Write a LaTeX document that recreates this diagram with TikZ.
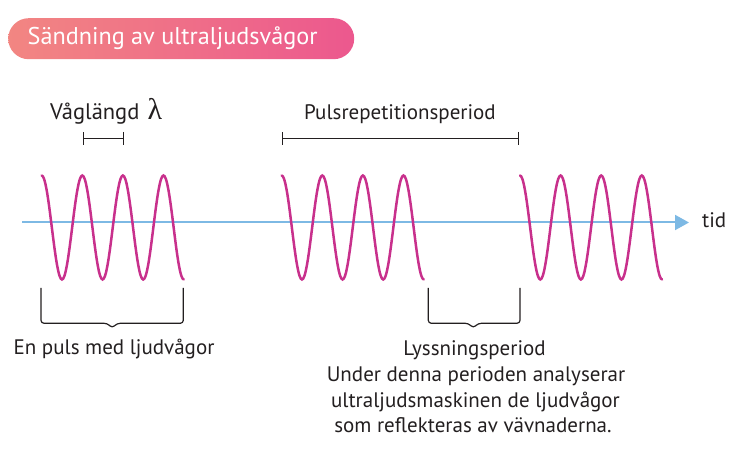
\documentclass[tikz,border=0pt]{standalone}
\usepackage{fontspec}
\setmainfont{PT Sans}
\newfontfamily\lamfont{Liberation Serif}
\usetikzlibrary{arrows.meta}
\definecolor{wavec}{RGB}{200,48,140}
\definecolor{axisc}{RGB}{125,185,228}
\definecolor{txt}{RGB}{35,31,32}
\definecolor{titleL}{RGB}{242,134,130}
\definecolor{titleR}{RGB}{236,88,142}
\tikzset{
  wave/.style={draw=wavec, line width=2.5pt, line cap=round},
  axisline/.style={draw=axisc, line width=2pt, -{Triangle[length=14pt,width=15pt]}},
  dimbar/.style={draw=txt, line width=1.2pt, {Bar[width=13pt]}-{Bar[width=13pt]}},
  bracketline/.style={draw=txt, line width=1.2pt, rounded corners=3pt},
  lbl/.style={text=txt, font=\fontsize{21}{24}\selectfont, inner sep=0pt, anchor=base},
}
\begin{document}
\begin{tikzpicture}[x=1pt,y=-1pt]
\useasboundingbox (0,0) rectangle (750,465);
% title
\node[rounded corners=20.5pt, left color=titleL, right color=titleR, minimum width=346pt, minimum height=41pt, inner sep=0pt, anchor=north west] (title) at (8,18) {};
\node[text=white, font=\fontsize{24.2}{28}\selectfont, inner sep=0pt, anchor=west] (titletext) at (27.5,38.5) {Sändning av ultraljudsvågor};
% axis
\coordinate (axstart) at (22,222.5);
\coordinate (axend) at (689,222.5);
\draw[axisline] (axstart) -- (axend);
\node[lbl, anchor=base west] (tid) at (702,228) {tid};
% waves
\foreach \s in {41.7,281.7,520}{
  \draw[wave] plot[domain=0:3.5, samples=120, smooth] ({\s+\x*40.6},{227.5-52*cos(360*\x)});
}
% wavelength
\node[lbl, anchor=base west, font=\fontsize{22.5}{24}\selectfont] (vag) at (50,120) {Våglängd};
\node[text=txt, inner sep=0pt, anchor=base, font=\fontsize{30}{30}\lamfont] (lambda) at (155,120) {λ};
\coordinate (l1) at (82.7,138.3);
\coordinate (l2) at (124.3,138.3);
\draw[dimbar] (l1) -- (l2);
% pulse repetition period
\node[lbl] (prp) at (400,120) {Pulsrepetitionsperiod};
\coordinate (p1) at (281.7,138.3);
\coordinate (p2) at (519.3,138.3);
\draw[dimbar] (p1) -- (p2);
% bracket 1
\coordinate (b1a) at (41,288);
\coordinate (b1b) at (183.3,288);
\draw[bracketline] (b1a) -- (41,323.3) -- (107.2,323.3) -- (112.2,328) -- (117.2,323.3) -- (183.3,323.3) -- (b1b);
\node[lbl] (puls) at (114,354) {En puls med ljudvågor};
% bracket 2
\coordinate (b2a) at (428.3,288);
\coordinate (b2b) at (520,288);
\draw[bracketline] (b2a) -- (428.3,323.3) -- (468.3,323.3) -- (473.3,328) -- (478.3,323.3) -- (520,323.3) -- (b2b);
\node[lbl] (lyss1) at (474.5,355) {Lyssningsperiod};
\node[lbl] (lyss2) at (476,381) {Under denna perioden analyserar};
\node[lbl] (lyss3) at (475.5,407.5) {ultraljudsmaskinen de ljudvågor};
\node[lbl] (lyss4) at (473,432) {som reflekteras av vävnaderna.};
\end{tikzpicture}
\end{document}
